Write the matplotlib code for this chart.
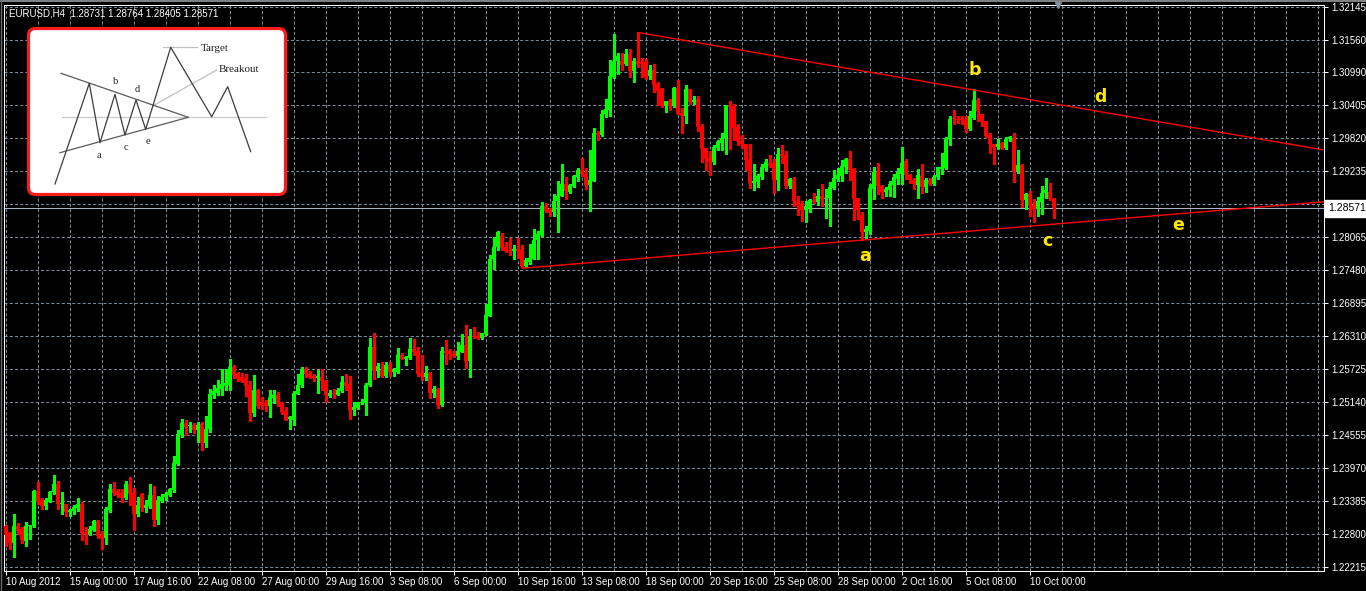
import matplotlib
matplotlib.use('Agg')
import matplotlib.pyplot as plt
import matplotlib.transforms as mtransforms
from matplotlib.lines import Line2D
from matplotlib.patches import FancyBboxPatch

plt.rcParams['font.family'] = ['Liberation Sans', 'DejaVu Sans']

# ------------------------------------------------------------------
# data: EURUSD H4 bars, 10 Aug 2012 -> 10 Oct 2012
# ------------------------------------------------------------------
SYMBOL = 'EURUSD,H4'

bar_open = [
    1.2294, 1.2282, 1.2265, 1.2294, 1.2289, 1.2268, 1.2294, 1.2294, 1.2357, 1.2341,
    1.2330, 1.2339, 1.2355, 1.2369, 1.2333, 1.2333, 1.2320, 1.2321, 1.2326, 1.2334,
    1.2284, 1.2280, 1.2288, 1.2304, 1.2279, 1.2274, 1.2323, 1.2360, 1.2357, 1.2353,
    1.2344, 1.2369, 1.2353, 1.2316, 1.2352, 1.2326, 1.2330, 1.2350, 1.2305, 1.2339,
    1.2346, 1.2350, 1.2359, 1.2405, 1.2455, 1.2477, 1.2471, 1.2473, 1.2465, 1.2476,
    1.2442, 1.2466, 1.2527, 1.2530, 1.2538, 1.2542, 1.2545, 1.2577, 1.2564, 1.2558,
    1.2557, 1.2545, 1.2495, 1.2536, 1.2513, 1.2512, 1.2508, 1.2521, 1.2527, 1.2513,
    1.2499, 1.2485, 1.2483, 1.2529, 1.2544, 1.2572, 1.2564, 1.2561, 1.2556, 1.2559,
    1.2552, 1.2525, 1.2531, 1.2527, 1.2534, 1.2550, 1.2547, 1.2500, 1.2504, 1.2512,
    1.2513, 1.2544, 1.2612, 1.2570, 1.2571, 1.2560, 1.2580, 1.2568, 1.2567, 1.2598,
    1.2591, 1.2593, 1.2609, 1.2605, 1.2566, 1.2558, 1.2566, 1.2531, 1.2538, 1.2509,
    1.2605, 1.2605, 1.2600, 1.2596, 1.2603, 1.2616, 1.2587, 1.2632, 1.2632, 1.2628,
    1.2635, 1.2667, 1.2767, 1.2788, 1.2808, 1.2788, 1.2784, 1.2782, 1.2786, 1.2784,
    1.2756, 1.2763, 1.2768, 1.2801, 1.2810, 1.2861, 1.2854, 1.2851, 1.2870, 1.2879,
    1.2900, 1.2886, 1.2896, 1.2913, 1.2925, 1.2919, 1.2898, 1.2906, 1.2990, 1.2987,
    1.3024, 1.3032, 1.3090, 1.3118, 1.3118, 1.3113, 1.3130, 1.3100, 1.3119, 1.3116,
    1.3116, 1.3091, 1.3103, 1.3077, 1.3068, 1.3039, 1.3047, 1.3039, 1.3070, 1.3027,
    1.3021, 1.3068, 1.3045, 1.3051, 1.3002, 1.2965, 1.2946, 1.2939, 1.2965, 1.2973,
    1.2982, 1.3040, 1.3039, 1.3001, 1.2976, 1.2972, 1.2944, 1.2902, 1.2904, 1.2912,
    1.2928, 1.2938, 1.2937, 1.2908, 1.2954, 1.2951, 1.2897, 1.2909, 1.2870, 1.2865,
    1.2854, 1.2858, 1.2872, 1.2868, 1.2880, 1.2873, 1.2875, 1.2894, 1.2910, 1.2914,
    1.2931, 1.2944, 1.2927, 1.2875, 1.2845, 1.2816, 1.2818, 1.2891, 1.2922, 1.2896,
    1.2886, 1.2889, 1.2898, 1.2910, 1.2919, 1.2941, 1.2917, 1.2908, 1.2899, 1.2915,
    1.2895, 1.2907, 1.2901, 1.2912, 1.2927, 1.2929, 1.2980, 1.3016, 1.3016, 1.3016,
    1.3016, 1.2998, 1.3018, 1.3050, 1.3024, 1.3012, 1.2987, 1.2972, 1.2966, 1.2973,
    1.2965, 1.2981, 1.2981, 1.2924, 1.2934, 1.2872, 1.2883, 1.2864, 1.2857, 1.2868,
    1.2885, 1.2887, 1.28731,
]
bar_high = [
    1.2297, 1.2284, 1.2316, 1.2300, 1.2292, 1.2302, 1.2297, 1.2358, 1.2372, 1.2344,
    1.2344, 1.2357, 1.2385, 1.2375, 1.2355, 1.2334, 1.2325, 1.2331, 1.2344, 1.2338,
    1.2292, 1.2294, 1.2305, 1.2305, 1.2285, 1.2328, 1.2369, 1.2372, 1.2360, 1.2360,
    1.2375, 1.2381, 1.2362, 1.2346, 1.2353, 1.2340, 1.2369, 1.2366, 1.2347, 1.2352,
    1.2354, 1.2362, 1.2419, 1.2464, 1.2485, 1.2483, 1.2479, 1.2477, 1.2479, 1.2479,
    1.2489, 1.2538, 1.2545, 1.2554, 1.2573, 1.2572, 1.2591, 1.2580, 1.2568, 1.2566,
    1.2564, 1.2552, 1.2562, 1.2538, 1.2523, 1.2517, 1.2535, 1.2536, 1.2532, 1.2515,
    1.2506, 1.2489, 1.2533, 1.2563, 1.2576, 1.2576, 1.2570, 1.2564, 1.2571, 1.2573,
    1.2554, 1.2535, 1.2538, 1.2539, 1.2560, 1.2564, 1.2560, 1.2514, 1.2515, 1.2520,
    1.2548, 1.2628, 1.2637, 1.2584, 1.2585, 1.2585, 1.2585, 1.2574, 1.2610, 1.2601,
    1.2595, 1.2627, 1.2626, 1.2611, 1.2598, 1.2578, 1.2567, 1.2542, 1.2539, 1.2612,
    1.2624, 1.2609, 1.2604, 1.2620, 1.2635, 1.2651, 1.2644, 1.2648, 1.2639, 1.2637,
    1.2687, 1.2775, 1.2807, 1.2818, 1.2813, 1.2797, 1.2804, 1.2793, 1.2804, 1.2793,
    1.2769, 1.2795, 1.2820, 1.2817, 1.2869, 1.2866, 1.2858, 1.2882, 1.2905, 1.2936,
    1.2912, 1.2900, 1.2916, 1.2928, 1.2947, 1.2928, 1.2960, 1.3000, 1.2995, 1.3032,
    1.3051, 1.3120, 1.3167, 1.3133, 1.3132, 1.3139, 1.3139, 1.3124, 1.3170, 1.3124,
    1.3121, 1.3112, 1.3113, 1.3081, 1.3070, 1.3048, 1.3051, 1.3072, 1.3084, 1.3035,
    1.3075, 1.3068, 1.3057, 1.3056, 1.3007, 1.2965, 1.2959, 1.2969, 1.2979, 1.2990,
    1.3040, 1.3047, 1.3043, 1.3007, 1.2988, 1.2972, 1.2971, 1.2935, 1.2919, 1.2935,
    1.2944, 1.2951, 1.2944, 1.2964, 1.2970, 1.2959, 1.2911, 1.2913, 1.2879, 1.2870,
    1.2870, 1.2874, 1.2885, 1.2891, 1.2900, 1.2891, 1.2904, 1.2926, 1.2929, 1.2943,
    1.2946, 1.2959, 1.2929, 1.2876, 1.2851, 1.2826, 1.2901, 1.2931, 1.2938, 1.2898,
    1.2895, 1.2906, 1.2919, 1.2929, 1.2966, 1.2944, 1.2919, 1.2911, 1.2927, 1.2935,
    1.2911, 1.2911, 1.2917, 1.2931, 1.2956, 1.2983, 1.3020, 1.3031, 1.3020, 1.3021,
    1.3021, 1.3030, 1.3068, 1.3053, 1.3024, 1.3012, 1.2991, 1.2972, 1.2981, 1.2974,
    1.2984, 1.2985, 1.2990, 1.2960, 1.2935, 1.2885, 1.2888, 1.2874, 1.2878, 1.2896,
    1.2911, 1.2903, 1.28764,
]
bar_low = [
    1.2260, 1.2254, 1.2240, 1.2281, 1.2265, 1.2260, 1.2271, 1.2292, 1.2334, 1.2324,
    1.2324, 1.2337, 1.2352, 1.2325, 1.2316, 1.2313, 1.2313, 1.2316, 1.2322, 1.2269,
    1.2263, 1.2278, 1.2286, 1.2274, 1.2254, 1.2263, 1.2319, 1.2350, 1.2346, 1.2338,
    1.2343, 1.2331, 1.2288, 1.2313, 1.2322, 1.2320, 1.2326, 1.2294, 1.2298, 1.2337,
    1.2341, 1.2348, 1.2354, 1.2402, 1.2452, 1.2455, 1.2462, 1.2460, 1.2443, 1.2430,
    1.2434, 1.2462, 1.2521, 1.2527, 1.2527, 1.2535, 1.2535, 1.2557, 1.2552, 1.2550,
    1.2525, 1.2480, 1.2489, 1.2503, 1.2502, 1.2498, 1.2487, 1.2513, 1.2508, 1.2493,
    1.2482, 1.2466, 1.2473, 1.2528, 1.2541, 1.2558, 1.2556, 1.2551, 1.2531, 1.2535,
    1.2515, 1.2524, 1.2521, 1.2526, 1.2532, 1.2535, 1.2485, 1.2492, 1.2502, 1.2511,
    1.2492, 1.2542, 1.2555, 1.2558, 1.2558, 1.2558, 1.2561, 1.2561, 1.2566, 1.2591,
    1.2580, 1.2590, 1.2597, 1.2561, 1.2554, 1.2554, 1.2522, 1.2523, 1.2503, 1.2508,
    1.2582, 1.2591, 1.2594, 1.2591, 1.2603, 1.2574, 1.2558, 1.2627, 1.2625, 1.2625,
    1.2633, 1.2666, 1.2750, 1.2783, 1.2783, 1.2780, 1.2774, 1.2768, 1.2769, 1.2753,
    1.2753, 1.2759, 1.2767, 1.2768, 1.2808, 1.2850, 1.2844, 1.2844, 1.2816, 1.2879,
    1.2873, 1.2884, 1.2895, 1.2906, 1.2915, 1.2891, 1.2853, 1.2905, 1.2978, 1.2986,
    1.3019, 1.3020, 1.3089, 1.3095, 1.3102, 1.3112, 1.3090, 1.3081, 1.3108, 1.3090,
    1.3086, 1.3087, 1.3063, 1.3040, 1.3037, 1.3028, 1.3032, 1.3037, 1.3024, 1.2990,
    1.3008, 1.3042, 1.3042, 1.2994, 1.2939, 1.2926, 1.2917, 1.2935, 1.2960, 1.2960,
    1.2953, 1.2963, 1.2978, 1.2970, 1.2964, 1.2925, 1.2894, 1.2890, 1.2895, 1.2909,
    1.2926, 1.2931, 1.2884, 1.2890, 1.2938, 1.2894, 1.2894, 1.2861, 1.2846, 1.2835,
    1.2833, 1.2851, 1.2866, 1.2864, 1.2861, 1.2841, 1.2826, 1.2891, 1.2906, 1.2906,
    1.2920, 1.2907, 1.2836, 1.2839, 1.2801, 1.2805, 1.2811, 1.2873, 1.2882, 1.2875,
    1.2880, 1.2880, 1.2877, 1.2901, 1.2900, 1.2910, 1.2903, 1.2891, 1.2876, 1.2885,
    1.2887, 1.2898, 1.2898, 1.2910, 1.2919, 1.2927, 1.2970, 1.3006, 1.3009, 1.3006,
    1.2993, 1.2996, 1.3016, 1.3012, 1.3003, 1.2984, 1.2956, 1.2935, 1.2962, 1.2962,
    1.2962, 1.2977, 1.2904, 1.2920, 1.2860, 1.2857, 1.2843, 1.2833, 1.2843, 1.2848,
    1.2876, 1.2872, 1.28405,
]
bar_close = [
    1.2279, 1.2265, 1.2294, 1.2286, 1.2269, 1.2294, 1.2295, 1.2357, 1.2338, 1.2330,
    1.2341, 1.2355, 1.2369, 1.2333, 1.2334, 1.2319, 1.2323, 1.2329, 1.2334, 1.2283,
    1.2280, 1.2289, 1.2304, 1.2277, 1.2274, 1.2325, 1.2360, 1.2353, 1.2350, 1.2344,
    1.2369, 1.2352, 1.2316, 1.2332, 1.2326, 1.2332, 1.2350, 1.2305, 1.2341, 1.2346,
    1.2352, 1.2360, 1.2406, 1.2458, 1.2477, 1.2470, 1.2474, 1.2465, 1.2474, 1.2442,
    1.2467, 1.2529, 1.2533, 1.2539, 1.2547, 1.2548, 1.2577, 1.2562, 1.2555, 1.2552,
    1.2542, 1.2495, 1.2536, 1.2508, 1.2509, 1.2507, 1.2524, 1.2527, 1.2511, 1.2496,
    1.2483, 1.2487, 1.2531, 1.2545, 1.2573, 1.2563, 1.2559, 1.2556, 1.2560, 1.2551,
    1.2526, 1.2531, 1.2528, 1.2536, 1.2550, 1.2542, 1.2500, 1.2506, 1.2514, 1.2514,
    1.2545, 1.2612, 1.2570, 1.2578, 1.2560, 1.2580, 1.2567, 1.2571, 1.2598, 1.2591,
    1.2594, 1.2609, 1.2603, 1.2564, 1.2560, 1.2566, 1.2531, 1.2538, 1.2509, 1.2605,
    1.2601, 1.2600, 1.2596, 1.2605, 1.2616, 1.2587, 1.2632, 1.2629, 1.2628, 1.2637,
    1.2669, 1.2767, 1.2789, 1.2815, 1.2787, 1.2782, 1.2782, 1.2786, 1.2781, 1.2756,
    1.2765, 1.2770, 1.2802, 1.2811, 1.2861, 1.2852, 1.2851, 1.2871, 1.2880, 1.2900,
    1.2888, 1.2898, 1.2914, 1.2925, 1.2918, 1.2898, 1.2907, 1.2990, 1.2988, 1.3025,
    1.3034, 1.3091, 1.3119, 1.3127, 1.3112, 1.3130, 1.3101, 1.3118, 1.3113, 1.3113,
    1.3090, 1.3103, 1.3075, 1.3065, 1.3039, 1.3047, 1.3039, 1.3070, 1.3025, 1.3021,
    1.3068, 1.3045, 1.3050, 1.3001, 1.2963, 1.2944, 1.2939, 1.2966, 1.2975, 1.2982,
    1.3040, 1.3037, 1.2999, 1.2976, 1.2972, 1.2943, 1.2902, 1.2906, 1.2914, 1.2930,
    1.2939, 1.2933, 1.2908, 1.2954, 1.2950, 1.2896, 1.2909, 1.2870, 1.2864, 1.2854,
    1.2861, 1.2872, 1.2868, 1.2880, 1.2873, 1.2876, 1.2895, 1.2911, 1.2917, 1.2932,
    1.2944, 1.2926, 1.2873, 1.2855, 1.2816, 1.2820, 1.2893, 1.2922, 1.2896, 1.2886,
    1.2891, 1.2900, 1.2913, 1.2922, 1.2938, 1.2917, 1.2907, 1.2901, 1.2916, 1.2895,
    1.2907, 1.2901, 1.2913, 1.2930, 1.2931, 1.2981, 1.3016, 1.3015, 1.3013, 1.3013,
    1.2998, 1.3020, 1.3050, 1.3030, 1.3010, 1.2985, 1.2971, 1.2966, 1.2972, 1.2963,
    1.2981, 1.2983, 1.2924, 1.2934, 1.2872, 1.2883, 1.2862, 1.2857, 1.2870, 1.2885,
    1.2889, 1.2873, 1.28571,
]

price_ticks = [1.22215, 1.22800, 1.23385, 1.23970, 1.24555, 1.25140, 1.25725,
               1.26310, 1.26895, 1.27480, 1.28065, 1.28650, 1.29235, 1.29820,
               1.30405, 1.30990, 1.31560, 1.32145]

time_labels = ['10 Aug 2012', '15 Aug 00:00', '17 Aug 16:00', '22 Aug 08:00',
               '27 Aug 00:00', '29 Aug 16:00', '3 Sep 08:00', '6 Sep 00:00',
               '10 Sep 16:00', '13 Sep 08:00', '18 Sep 00:00', '20 Sep 16:00',
               '25 Sep 08:00', '28 Sep 00:00', '2 Oct 16:00', '5 Oct 08:00',
               '10 Oct 00:00']
LABEL_EVERY = 16   # bars between time labels
GRID_EVERY = 8     # bars between vertical grid lines

# trend lines: two anchors (bar index, price), drawn as rays to the right
upper_line = [(158, 1.3169), (242, 1.3067)]
lower_line = [(129, 1.2751), (214, 1.2801)]

wave_labels = ['a', 'b', 'c', 'd', 'e']
wave_bar = [215.0, 242.4, 260.5, 273.8, 293.2]
wave_price = [1.2773, 1.3102, 1.2799, 1.3054, 1.2827]

# little textbook picture in the top-left corner (its own pixel coords)
sketch_zigzag_x = [28, 62.3, 73, 88, 98, 109, 118.7, 143.7, 184.7, 200.7, 223.7]
sketch_zigzag_y = [157, 56.3, 115.7, 67.3, 108, 73, 102.3, 20.3, 89.7, 59.7, 124.7]
sketch_upper = ([34, 161.3], [46.3, 90.3])
sketch_lower = ([33, 161.3], [125.7, 90.3])
sketch_mid = ([34.7, 238.7], [90.3, 90.3])
sketch_target = ([135.7, 169.7], [19.7, 19.7])
sketch_leader = ([125.7, 189.7], [79, 43])
sketch_text = [('Target', 174, 21.3), ('Breakout', 191.7, 42),
               ('b', 89, 54.7), ('d', 110.7, 63), ('a', 72.3, 128.7),
               ('c', 99, 120.7), ('e', 120.7, 114)]

# ------------------------------------------------------------------
# figure
# ------------------------------------------------------------------
W, H = 1366, 591
BULL, BEAR = '#00ff00', '#ff0000'
GRID = '#778899'

fig = plt.figure(figsize=(W / 100, H / 100), dpi=100, facecolor='black')
ax = fig.add_axes([4 / W, 20 / H, 1320 / W, 566 / H])
ax.set_facecolor('black')

n = len(bar_close)
x_left, x_right = -0.375, 329.625
ax.set_xlim(x_left, x_right)
ax.set_ylim(1.22149, 1.32175)

# grid
for v in price_ticks:
    ax.axhline(v, color=GRID, lw=0.75, ls=(0, (3, 2)), zorder=1)
for b in range(0, int(x_right) + 1, GRID_EVERY):
    ax.axvline(b, color=GRID, lw=0.75, ls=(0, (3, 2)), zorder=1)

# candles
xs = list(range(n))
colors = [BULL if c >= o else BEAR for o, c in zip(bar_open, bar_close)]
bottoms = [min(o, c) for o, c in zip(bar_open, bar_close)]
heights = [max(abs(c - o), 0.00018) for o, c in zip(bar_open, bar_close)]
ax.vlines(xs, bar_low, bar_high, colors=colors, lw=0.75, zorder=3,
          antialiased=False)
ax.bar(xs, heights, bottom=bottoms, width=0.75, color=colors, linewidth=0,
       zorder=3, antialiased=False)

# bid line
ax.axhline(bar_close[-1], color='#aab4c0', lw=0.75, zorder=2)

# trend lines
for (x0, y0), (x1, y1) in (upper_line, lower_line):
    k = (y1 - y0) / (x1 - x0)
    ax.plot([x0, x_right], [y0, y0 + k * (x_right - x0)], color='#ff0000',
            lw=1.0, zorder=4, solid_capstyle='butt')

# wave letters
for lab, xb, yp in zip(wave_labels, wave_bar, wave_price):
    ax.text(xb, yp, lab, color='#ffe800', fontsize=12.5, fontweight='bold',
            family=['DejaVu Sans'], ha='center', va='center', zorder=5)

# chart shift marker
ax.plot([n + 0.2], [1.32175], marker='v', ms=5, color='#7f8fa0',
        clip_on=False, zorder=6)

# axes styling
for s in ax.spines.values():
    s.set_color('white')
    s.set_linewidth(0.75)

ax.yaxis.tick_right()
ax.set_yticks(price_ticks)
ax.set_yticklabels([f'{v:.5f}' for v in price_ticks])
ax.tick_params(axis='y', colors='white', labelsize=7, length=3, width=0.75,
               pad=2.5, direction='out')

ax.set_xticks([i * LABEL_EVERY for i in range(len(time_labels))])
ax.set_xticklabels(time_labels, ha='left')
ax.tick_params(axis='x', colors='white', labelsize=7, length=3, width=0.75,
               pad=1.5, direction='out')

# current price box on the price scale (sits over the 1.28650 label)
trans = mtransforms.blended_transform_factory(ax.transAxes, ax.transData)
ax.text(1.0035, bar_close[-1], f'{bar_close[-1]:.5f}', transform=trans,
        fontsize=7.5, color='black', ha='left', va='center', zorder=10,
        bbox=dict(boxstyle='square,pad=0.3', fc='white', ec='white'))

# header
fig.text(9 / W, 1 - 13 / H,
         f'{SYMBOL}  {bar_open[-1]:.5f} {bar_high[-1]:.5f} '
         f'{bar_low[-1]:.5f} {bar_close[-1]:.5f}',
         color='white', fontsize=7, va='center', ha='left')

# window frame lines
fig.add_artist(Line2D([0, 1], [1 - 0.8 / H] * 2, transform=fig.transFigure,
                      color='#9a9a9a', lw=1.2))
fig.add_artist(Line2D([0.6 / W] * 2, [0, 1], transform=fig.transFigure,
                      color='#6a6a6a', lw=1.0))

# ------------------------------------------------------------------
# inset picture of the triangle pattern
# ------------------------------------------------------------------
axi = fig.add_axes([27 / W, 1 - 196 / H, 260 / W, 169 / H])
axi.set_xlim(0, 260)
axi.set_ylim(169, 0)
axi.axis('off')
axi.add_patch(FancyBboxPatch((1.5, 1.5), 257, 166,
                             boxstyle='round,pad=0,rounding_size=7',
                             fc='white', ec='#ff1a1a', lw=2.3))
axi.plot(*sketch_mid, color='#c8c8c8', lw=0.9)
axi.plot(*sketch_target, color='#c0c0c0', lw=0.9)
axi.plot(*sketch_leader, color='#c0c0c0', lw=0.9)
axi.plot(*sketch_upper, color='#5a5a5a', lw=0.9)
axi.plot(*sketch_lower, color='#5a5a5a', lw=0.9)
axi.plot(sketch_zigzag_x, sketch_zigzag_y, color='#3c3c3c', lw=0.9)
for txt, tx, ty in sketch_text:
    axi.text(tx, ty, txt, family=['Liberation Serif', 'DejaVu Serif'],
             fontsize=8 if len(txt) > 1 else 7.5, color='#202020',
             ha='left' if len(txt) > 1 else 'center', va='center')

fig.savefig('out.png', dpi=100, facecolor='black')
